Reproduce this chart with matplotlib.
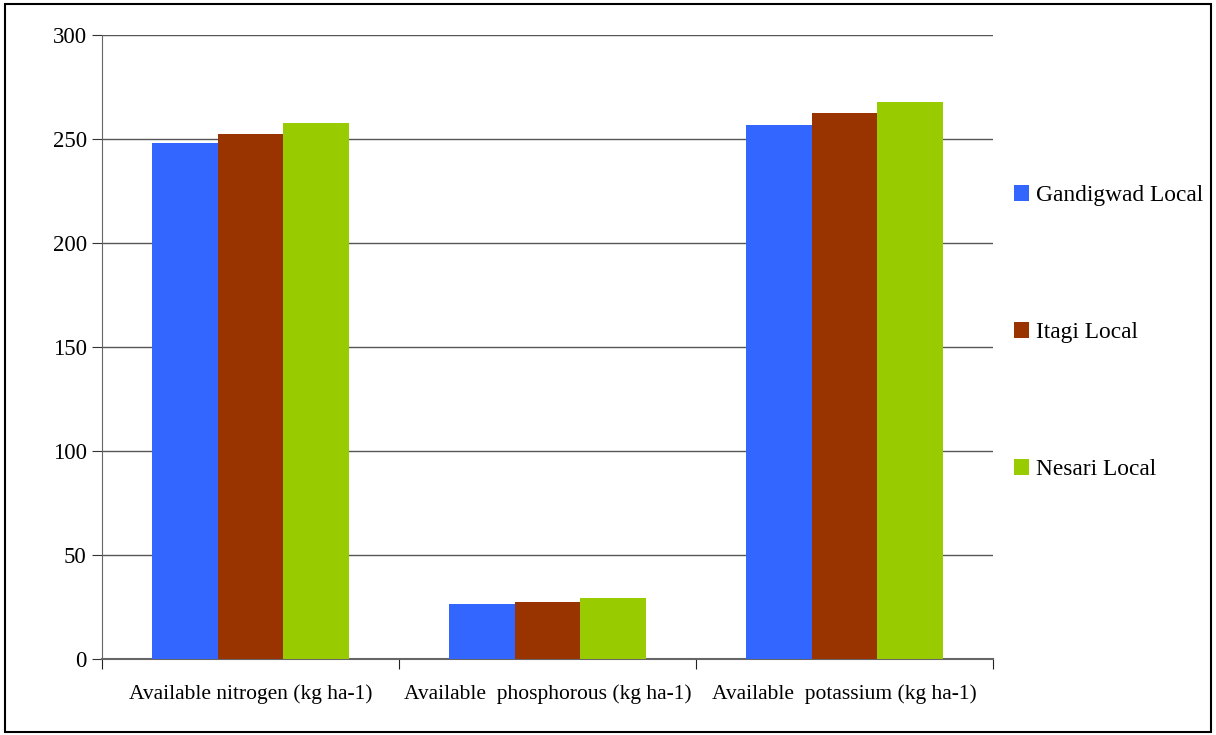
import numpy as np
import matplotlib.pyplot as plt
from matplotlib.patches import Rectangle

# data
categories = ['Available nitrogen (kg ha-1)', 'Available  phosphorous (kg ha-1)', 'Available  potassium (kg ha-1)']
varieties = ['Gandigwad Local', 'Itagi Local', 'Nesari Local']
gandigwad = [248.1, 26.4, 256.7]
itagi = [252.6, 27.4, 262.5]
nesari = [257.8, 29.3, 267.8]
colors = ['#3366FF', '#993300', '#99CC00']

plt.rcParams['font.family'] = ['Liberation Serif', 'DejaVu Serif']

fig = plt.figure(figsize=(12.16, 7.35), dpi=100)
ax = fig.add_axes([0.0839, 0.1034, 0.7327, 0.849])

x = np.arange(len(categories))
w = 0.222
for i, (vals, name) in enumerate(zip([gandigwad, itagi, nesari], varieties)):
    ax.bar(x + (i - 1) * w, vals, width=w, color=colors[i], label=name, zorder=3)

ax.set_xlim(-0.5, 2.5)
ax.set_ylim(0, 300)
ax.set_yticks(range(0, 301, 50))
ax.yaxis.grid(True, color='#555555', linewidth=1.0, zorder=0)
ax.set_axisbelow(True)

# category labels between boundary ticks
ax.set_xticks([-0.5, 0.5, 1.5, 2.5])
ax.set_xticklabels([])
ax.set_xticks(x, minor=True)
ax.set_xticklabels(categories, minor=True, fontsize=15.5)
ax.tick_params(axis='x', which='minor', length=0, pad=18)
ax.tick_params(axis='x', which='major', length=7, color='#222222', direction='out')
ax.tick_params(axis='y', length=7, color='#333333', direction='out', labelsize=16.5, pad=4)

for s in ['top', 'right']:
    ax.spines[s].set_visible(False)
ax.spines['left'].set_color('#666666')
ax.spines['bottom'].set_color('#666666')
ax.spines['bottom'].set_linewidth(1.5)

fig.legend(loc='upper left', bbox_to_anchor=(0.826, 0.761), frameon=False,
           fontsize=16.8, handlelength=0.65, handleheight=0.65, handletextpad=0.3,
           labelspacing=4.97, borderaxespad=0)

fig.patches.append(Rectangle((0.004, 0.004), 0.992, 0.99, transform=fig.transFigure,
                             fill=False, edgecolor='black', linewidth=1.5))

fig.savefig('out.png', dpi=100)
